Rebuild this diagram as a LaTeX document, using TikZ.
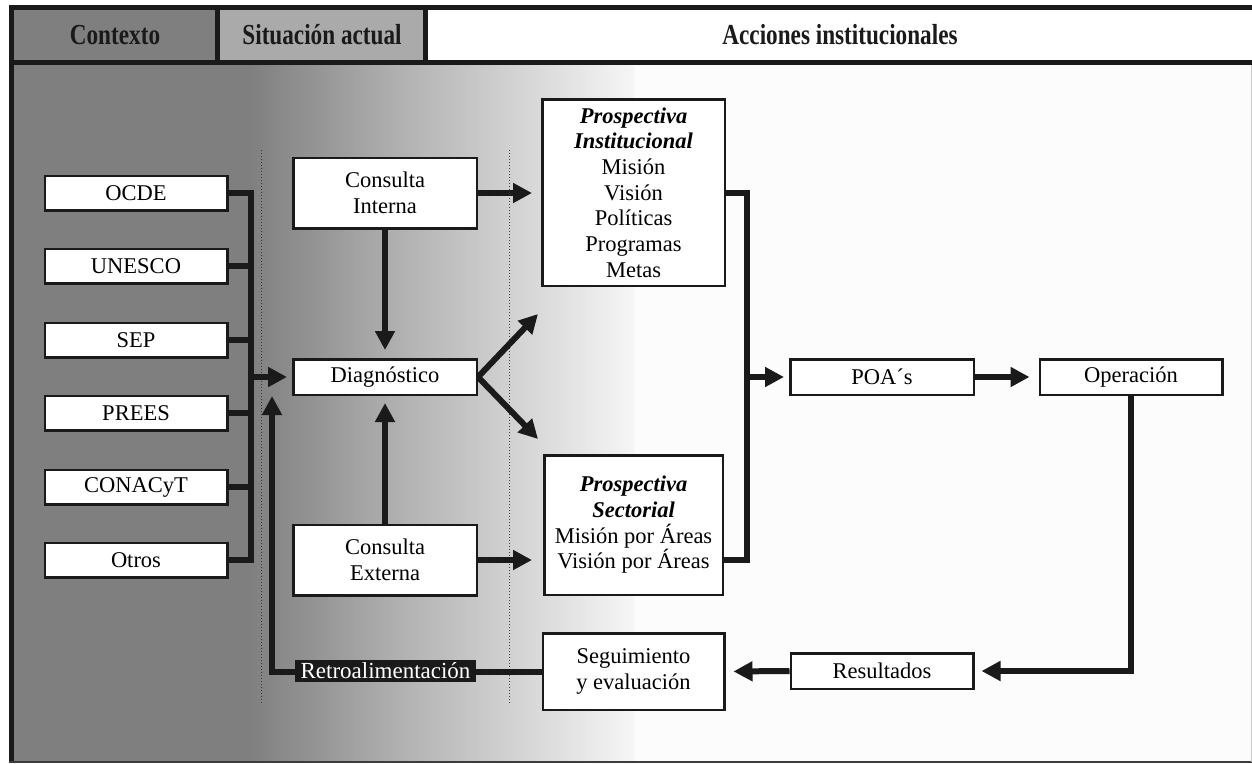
\documentclass[tikz,border=0pt]{standalone}
\usepackage{fontspec}
\setmainfont{Liberation Serif}
\newfontfamily\hdfont[FakeStretch=0.8]{Liberation Serif}
\usetikzlibrary{arrows.meta}
\definecolor{ink}{HTML}{1A1A1A}
\definecolor{gA}{HTML}{7F7F7F}
\definecolor{gB}{HTML}{AAAAAA}
\definecolor{gM}{HTML}{B4B4B4}
\definecolor{gS}{HTML}{F6F6F6}
\definecolor{gE}{HTML}{FCFCFC}
\definecolor{dotc}{HTML}{3A3A3A}
\pgfdeclarehorizontalshading{bgsh}{698bp}{color(0bp)=(gA); color(160bp)=(gM); color(383bp)=(gS)}
\begin{document}
\begin{tikzpicture}[x=1pt,y=-1pt,
  box/.style={draw=ink,line width=2.5pt,fill=white,inner sep=0pt,align=center,
    font=\fontsize{22.5}{25.7}\selectfont},
  conn/.style={draw=ink,line width=6pt},
  arr/.style={conn,-{Triangle[length=19pt,width=19pt]}},
  hdr/.style={font=\hdfont\bfseries\fontsize{29}{30}\selectfont,text=ink},
  frame/.style={draw=ink,line width=5pt},
  sepline/.style={draw=dotc,line width=1pt,dash pattern=on 1pt off 2pt}
]
\useasboundingbox (0,0) rectangle (1252,763);
\fill[white] (0,0) rectangle (1252,763);
% body background
\fill[gA] (12,62) rectangle (251,762);
\fill[gE] (633,62) rectangle (1252,762);
\pgftext[at=\pgfpoint{250pt}{-62pt},left,top]{\pgfuseshading{bgsh}}
% header cells
\fill[gA] (12,7) rectangle (218,62);
\fill[gB] (218,7) rectangle (426,62);
\fill[white] (426,7) rectangle (1252,62);
\node[hdr] (h1) at (115,35) {Contexto};
\node[hdr] (h2) at (322,35) {Situación actual};
\node[hdr] (h3) at (840,35) {Acciones institucionales};
% frame
\draw[frame] (9,7.5) -- (1252,7.5);
\draw[frame] (9,62.5) -- (1252,62.5);
\draw[frame] (217.5,7.5) -- (217.5,62.5);
\draw[frame] (425.5,7.5) -- (425.5,62.5);
\draw[frame] (11.5,5) -- (11.5,763);
\draw[draw=ink!85,line width=1.5pt] (9,762) -- (1252,762);
\draw[draw=gray!40,line width=1pt] (1251.5,65) -- (1251.5,762);
% dotted separators
\draw[sepline] (261,150) -- (261,705);
\draw[sepline] (509,150) -- (509,705);
% context nodes
\foreach \n/\t/\y in {ocde/OCDE/193, unesco/UNESCO/266, sep/SEP/340, prees/PREES/413, conacyt/CONACyT/487, otros/Otros/560}
  \node[box,minimum width=182.5pt,minimum height=34.5pt] (\n) at (136,\y) {\t};
% situation nodes
\node[box,minimum width=183.5pt,minimum height=35.5pt] (diag) at (385,377) {Diagnóstico};
\node[box,minimum width=183.5pt,minimum height=70.5pt] (ci) at (385,193) {Consulta\\Interna};
\node[box,minimum width=183.5pt,minimum height=70.5pt] (ce) at (385,560) {Consulta\\Externa};
% actions nodes
\node[box,minimum width=182.5pt,minimum height=186.5pt] (pi) at (633.5,192.5)
  {\textbf{\textit{Prospectiva}}\\\textbf{\textit{Institucional}}\\Misión\\Visión\\Políticas\\Programas\\Metas};
\node[box,minimum width=178.5pt,minimum height=139.5pt] (ps) at (633.5,525)
  {\textbf{\textit{Prospectiva}}\\\textbf{\textit{Sectorial}}\\Misión por Áreas\\Visión por Áreas};
\node[box,minimum width=183.5pt,minimum height=35.5pt] (poa) at (882,377) {POA´s};
\node[box,minimum width=182.5pt,minimum height=35.5pt] (op) at (1131,377) {Operación};
\node[box,minimum width=182.5pt,minimum height=35.5pt] (res) at (882,671) {Resultados};
\node[box,minimum width=181.5pt,minimum height=76.5pt] (seg) at (633.5,671.5) {Seguimiento\\y evaluación};
% coordinates
\coordinate (bl) at (251,377);
\coordinate (br) at (747,377);
\coordinate (d1) at (538,314);
\coordinate (d2) at (538,439);
\coordinate (fbtip) at (272,396);
% context bus
\draw[conn] (ocde.east) -| (bl);
\draw[conn] (otros.east) -| (bl);
\foreach \n in {unesco,sep,prees,conacyt}
  \draw[conn] (\n.east) -- (\n.east -| bl);
\draw[arr,shorten >=5pt] (bl) -- (diag.west);
% consultas
\draw[arr,shorten >=8pt] (ci.south) -- (diag.north);
\draw[arr,shorten >=7pt] (ce.north) -- (diag.south);
\draw[arr,shorten >=9pt] (ci.east) -- (ci.east -| pi.west);
\draw[arr,shorten >=11pt] (ce.east) -- (ce.east -| ps.west);
% diagnostic branches
\draw[arr] (diag.east) -- (d1);
\draw[arr] (diag.east) -- (d2);
% prospective bus
\draw[conn] (pi.east) -| (br);
\draw[conn] (ps.east |- ce.east) -| (br);
\draw[arr,shorten >=5pt] (br) -- (poa.west);
\draw[arr,shorten >=9pt] (poa.east) -- (op.west);
% loop
\draw[arr,shorten >=7pt] (op.south) |- (res.east);
\draw[arr,shorten >=8pt] (res.west) -- (seg.east);
\draw[arr] (seg.west) -| (fbtip);
\node[fill=ink,text=white,inner sep=1.5pt,minimum height=22pt,minimum width=181pt,
  font=\fontsize{23}{25}\selectfont] (retro) at (385.5,671) {Retroalimentación};
\end{tikzpicture}
\end{document}
